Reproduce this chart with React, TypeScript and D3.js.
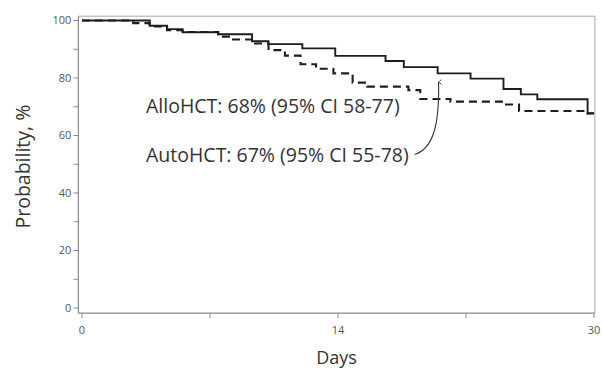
import { useEffect } from "react";
import * as d3 from "d3";

// Kaplan-Meier style step curves (days, %)
const ALLO_DAYS = [0, 3.7, 4.65, 5.5, 7.45, 9.3, 10.2, 12.05, 13.85, 16.6, 17.6, 19.45, 21.25, 23.05, 24.0, 24.9, 27.65, 28.0];
const ALLO_PROB = [100, 98.2, 97.0, 95.9, 95.2, 92.8, 91.8, 90.3, 87.7, 85.9, 83.8, 81.6, 79.8, 76.2, 74.3, 72.6, 67.7, 67.7];

const AUTO_DAYS = [0, 2.8, 3.7, 4.65, 5.5, 7.45, 8.2, 9.3, 10.2, 11.1, 11.95, 12.8, 13.75, 14.8, 15.6, 17.85, 18.5, 20.15, 23.05, 23.9, 27.65, 28.0];
const AUTO_PROB = [100, 99.1, 97.9, 96.6, 96.0, 94.4, 93.4, 92.0, 89.7, 87.8, 84.8, 83.2, 81.6, 78.4, 77.0, 75.8, 72.7, 71.8, 70.8, 68.5, 67.7, 67.7];

const Y_TICKS = [0, 20, 40, 60, 80, 100];
const Y_MINOR = [10, 30, 50, 70, 90];
const X_TICKS = [0, 7, 14, 21, 28];
const X_TICK_LABELS = ["0", "", "14", "", "30"];

const LABEL_ALLO = "AlloHCT: 68% (95% CI 58-77)";
const LABEL_AUTO = "AutoHCT: 67% (95% CI 55-78)";

const W = 603, H = 369;
const FONT = "'Open Sans', sans-serif";
const AXIS = "#8a8a8a";
const INK = "#1e1e1e";

export default function App() {
  useEffect(() => {
    document.body.style.margin = "0";
  }, []);

  const x = d3.scaleLinear().domain([0, 28]).range([82, 594]);
  const y = d3.scaleLinear().domain([0, 100]).range([308, 20.5]);

  const x0 = x(-0.2), x1 = x(28.05);
  const yTop = y(101.5), yBot = y(-1.75);

  const step = d3.line<[number, number]>()
    .x(d => x(d[0])).y(d => y(d[1]))
    .curve(d3.curveStepAfter);

  const allo = ALLO_DAYS.map((d, i) => [d, ALLO_PROB[i]] as [number, number]);
  const auto = AUTO_DAYS.map((d, i) => [d, AUTO_PROB[i]] as [number, number]);

  // arrow from AutoHCT label up to the dashed curve
  const arrow = d3.path();
  arrow.moveTo(x(18.2), y(53.4));
  arrow.bezierCurveTo(x(19.2), y(55.5), x(19.55), y(63.5), x(19.5), y(78.6));

  return (
    <svg width={W} height={H} style={{ display: "block", background: "#fff" }}>
      <defs>
        <marker id="arrowhead" viewBox="0 0 10 10" refX="5" refY="1" markerWidth="6" markerHeight="7" orient="auto-start-reverse" markerUnits="userSpaceOnUse">
          <path d="M1,6 L5,1 L9,6" fill="none" stroke="#333" strokeWidth="1.3" />
        </marker>
      </defs>

      {/* frame */}
      <line x1={x0} x2={x1} y1={yTop} y2={yTop} stroke="#a8a8a8" strokeWidth={1} />
      <line x1={x1} x2={x1} y1={yTop} y2={yBot} stroke="#a8a8a8" strokeWidth={1} />
      <line x1={x0} x2={x0} y1={yTop} y2={yBot} stroke={AXIS} strokeWidth={1.2} />
      <line x1={x0} x2={x1} y1={yBot} y2={yBot} stroke={AXIS} strokeWidth={1.2} />

      {/* y ticks */}
      {Y_TICKS.map(t => (
        <g key={"y" + t}>
          <line x1={x0 - 5} x2={x0} y1={y(t)} y2={y(t)} stroke={AXIS} />
          <text x={x0 - 7} y={y(t)} dy="0.35em" textAnchor="end" fontSize={11} fill="#555" fontFamily={FONT}>{t}</text>
        </g>
      ))}
      {Y_MINOR.map(t => (
        <line key={"ym" + t} x1={x0 - 5} x2={x0} y1={y(t)} y2={y(t)} stroke={AXIS} />
      ))}

      {/* x ticks */}
      {X_TICKS.map((t, i) => (
        <g key={"x" + t}>
          <line x1={x(t)} x2={x(t)} y1={yBot} y2={yBot + 5} stroke={AXIS} />
          <text x={x(t)} y={yBot + 21} textAnchor="middle" fontSize={11} fill="#555" fontFamily={FONT}>{X_TICK_LABELS[i]}</text>
        </g>
      ))}

      {/* axis titles */}
      <text x={(x0 + x1) / 2} y={364} textAnchor="middle" fontSize={18} fill="#333" fontFamily={FONT}>Days</text>
      <text transform={`translate(30,${(yTop + yBot) / 2 + 2}) rotate(-90)`} textAnchor="middle" fontSize={19.5} fill="#333" fontFamily={FONT}>Probability, %</text>

      {/* curves */}
      <path d={step(auto) ?? ""} fill="none" stroke={INK} strokeWidth={2.1} strokeDasharray="8,5" />
      <path d={step(allo) ?? ""} fill="none" stroke={INK} strokeWidth={1.9} />

      {/* annotations */}
      <text x={x(3.5)} y={y(67.8)} fontSize={19.5} fill="#333" fontFamily={FONT}>{LABEL_ALLO}</text>
      <text x={x(3.5)} y={y(50.8)} fontSize={19.5} fill="#333" fontFamily={FONT}>{LABEL_AUTO}</text>
      <path d={arrow.toString()} fill="none" stroke="#333" strokeWidth={1.1} markerEnd="url(#arrowhead)" />
    </svg>
  );
}
